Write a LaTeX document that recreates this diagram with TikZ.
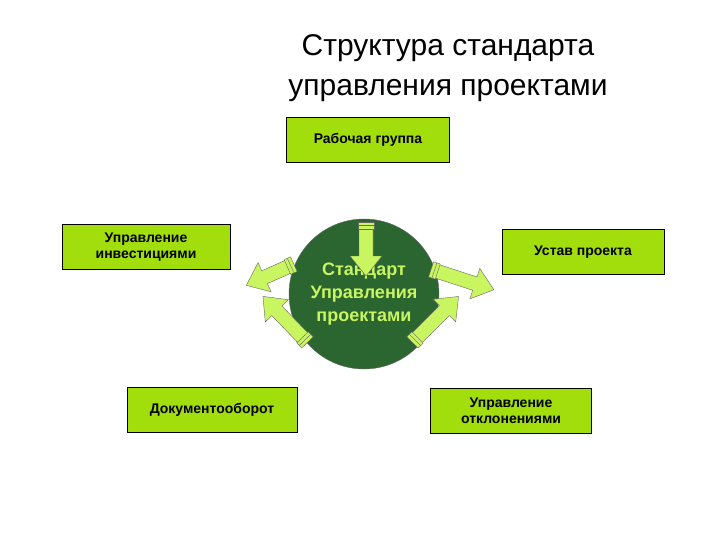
\documentclass[tikz,border=0pt]{standalone}
\usepackage{fontspec}
\setmainfont{Liberation Sans}
\definecolor{boxg}{HTML}{A2DE0C}
\definecolor{arrg}{HTML}{C8F560}
\definecolor{circg}{HTML}{2B6630}
\begin{document}
\begin{tikzpicture}[x=1pt,y=-1pt,
 box/.style={draw=black,fill=boxg,minimum height=45pt,align=center,font=\bfseries\fontsize{14}{16}\selectfont,inner sep=2pt},
 arrline/.style={draw=black!60,fill=arrg}]
\useasboundingbox (0,0) rectangle (720,540);
\node (t) at (448,68) [align=center,font=\fontsize{30}{40}\selectfont] {Структура стандарта\\управления проектами};
\node (c) at (364,294) [circle,draw=black!60,fill=circg,minimum size=150pt,text=arrg,align=center,font=\bfseries\fontsize{18}{23}\selectfont,inner sep=0pt] {Стандарт\\Управления\\проектами};
\node (b1) at (368,140) [box,minimum width=163pt] {Рабочая группа};
\node (b2) at (146,247) [box,minimum width=168pt] {Управление\\инвестициями};
\node (b3) at (583,252) [box,minimum width=162pt] {Устав проекта};
\node (b4) at (212,410) [box,minimum width=170pt] {Документооборот};
\node (b5) at (511,411) [box,minimum width=161pt] {Управление\\отклонениями};
\foreach \x/\y/\a/\l in {366/224/90/52, 292/265/156/50, 433/270/18/64, 306/341/226/62, 414/341/-45/63}{
  \begin{scope}[shift={(\x,\y)},rotate=-\a]
    \draw[arrline] (0,-7) -- (\l-20,-7) -- (\l-20,-16) -- (\l,0) -- (\l-20,16) -- (\l-20,7) -- (0,7) -- cycle;
    \draw[arrline] (-2,-8) rectangle (5,8);
    \draw[black!60] (1.5,-8) -- (1.5,8);
  \end{scope}
}
\end{tikzpicture}
\end{document}
